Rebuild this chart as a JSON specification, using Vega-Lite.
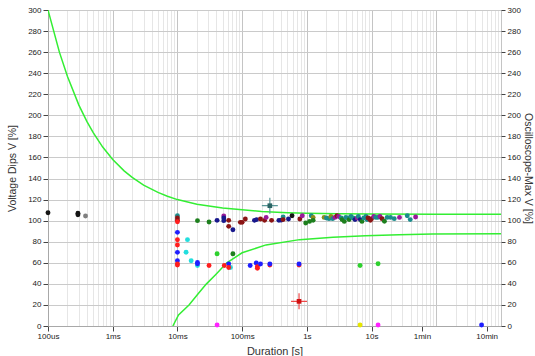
{
  "$schema": "https://vega.github.io/schema/vega-lite/v6.json",
  "autosize": {"type": "none"},
  "width": 453,
  "height": 316,
  "padding": {"left": 48, "top": 10, "right": 34, "bottom": 30},
  "background": "white",
  "config": {
    "view": {"stroke": "#a8a8a8"},
    "font": "Liberation Sans Narrow, Liberation Sans",
    "axis": {"labelFont": "Liberation Sans Narrow, Liberation Sans", "titleFont": "Liberation Sans Narrow, Liberation Sans", "labelFontSize": 8, "labelColor": "#222", "titleFontSize": 10.5, "titleFontWeight": "normal", "titleColor": "#333", "tickColor": "#444", "domainColor": "#a8a8a8"}
  },
  "datasets": {
    "curves": [
      {"c": "upper", "t": 0.0001, "v": 300}, {"c": "upper", "t": 0.00015, "v": 260}, {"c": "upper", "t": 0.0002, "v": 236.8}, {"c": "upper", "t": 0.0003, "v": 209.7}, {"c": "upper", "t": 0.0004, "v": 194}, {"c": "upper", "t": 0.0005, "v": 183.5}, {"c": "upper", "t": 0.0007, "v": 169.9}, {"c": "upper", "t": 0.001, "v": 158.1}, {"c": "upper", "t": 0.0015, "v": 147.3}, {"c": "upper", "t": 0.002, "v": 141.1}, {"c": "upper", "t": 0.003, "v": 133.8}, {"c": "upper", "t": 0.005, "v": 126.8}, {"c": "upper", "t": 0.007, "v": 123.2}, {"c": "upper", "t": 0.01, "v": 120}, {"c": "upper", "t": 0.02, "v": 115.6}, {"c": "upper", "t": 0.05, "v": 112}, {"c": "upper", "t": 0.1, "v": 110.4}, {"c": "upper", "t": 0.2, "v": 108.8}, {"c": "upper", "t": 0.5, "v": 107.6}, {"c": "upper", "t": 1, "v": 107}, {"c": "upper", "t": 3, "v": 106.6}, {"c": "upper", "t": 10, "v": 106.4}, {"c": "upper", "t": 100, "v": 106.2}, {"c": "upper", "t": 1000, "v": 106},
      {"c": "lower", "t": 0.0085, "v": 0}, {"c": "lower", "t": 0.0104, "v": 10.5}, {"c": "lower", "t": 0.0151, "v": 20}, {"c": "lower", "t": 0.0212, "v": 31}, {"c": "lower", "t": 0.0281, "v": 40}, {"c": "lower", "t": 0.0385, "v": 48.5}, {"c": "lower", "t": 0.058, "v": 60}, {"c": "lower", "t": 0.1, "v": 69.5}, {"c": "lower", "t": 0.234, "v": 77}, {"c": "lower", "t": 0.77, "v": 82}, {"c": "lower", "t": 2.54, "v": 84.2}, {"c": "lower", "t": 8.07, "v": 85.7}, {"c": "lower", "t": 26.6, "v": 86.7}, {"c": "lower", "t": 87.7, "v": 87.3}, {"c": "lower", "t": 1000, "v": 87.6}
    ],
    "pts": [
      {"t": 0.0001, "v": 107.5, "s": "blk"},
      {"t": 0.00029, "v": 107, "s": "blk"}, {"t": 0.00029, "v": 105.5, "s": "blk"},
      {"t": 0.00038, "v": 104.5, "s": "gray"},
      {"t": 0.01, "v": 104.7, "s": "teal"}, {"t": 0.01, "v": 102.5, "s": "maroon"}, {"t": 0.01, "v": 100.5, "s": "maroon"}, {"t": 0.01, "v": 99, "s": "red"},
      {"t": 0.01, "v": 88.9, "s": "blue"}, {"t": 0.01, "v": 81.9, "s": "red"}, {"t": 0.01, "v": 76.9, "s": "red"}, {"t": 0.01, "v": 69.9, "s": "blue"}, {"t": 0.01, "v": 62, "s": "blue"}, {"t": 0.01, "v": 59, "s": "red"}, {"t": 0.01, "v": 57.8, "s": "red"},
      {"t": 0.0143, "v": 82, "s": "cyan"}, {"t": 0.0136, "v": 70, "s": "cyan"}, {"t": 0.0163, "v": 62, "s": "cyan"},
      {"t": 0.0204, "v": 57.5, "s": "cyan"}, {"t": 0.0204, "v": 60.4, "s": "blue"}, {"t": 0.0204, "v": 59, "s": "blue"}, {"t": 0.0204, "v": 100, "s": "dgreen"},
      {"t": 0.0308, "v": 98.7, "s": "dgreen"}, {"t": 0.0308, "v": 57.5, "s": "red"},
      {"t": 0.041, "v": 100.3, "s": "navy"}, {"t": 0.041, "v": 68.6, "s": "green"},
      {"t": 0.052, "v": 104.5, "s": "purple"}, {"t": 0.052, "v": 102.5, "s": "navy"}, {"t": 0.052, "v": 100, "s": "navy"}, {"t": 0.053, "v": 57.5, "s": "red"},
      {"t": 0.066, "v": 55.6, "s": "cyan"}, {"t": 0.062, "v": 59, "s": "blue"}, {"t": 0.062, "v": 55.6, "s": "red"},
      {"t": 0.062, "v": 100.3, "s": "maroon"}, {"t": 0.062, "v": 94.6, "s": "maroon"},
      {"t": 0.072, "v": 91.4, "s": "navy"}, {"t": 0.072, "v": 68.6, "s": "dgreen"},
      {"t": 0.094, "v": 98.4, "s": "maroon"}, {"t": 0.1, "v": 98.4, "s": "maroon"}, {"t": 0.112, "v": 101.6, "s": "maroon"},
      {"t": 0.133, "v": 57.5, "s": "blue"},
      {"t": 0.155, "v": 100.3, "s": "navy"}, {"t": 0.167, "v": 101, "s": "navy"},
      {"t": 0.165, "v": 59.8, "s": "blue"}, {"t": 0.172, "v": 56.3, "s": "red"}, {"t": 0.172, "v": 54.8, "s": "red"}, {"t": 0.192, "v": 58.9, "s": "blue"},
      {"t": 0.192, "v": 101.6, "s": "maroon"}, {"t": 0.222, "v": 100.3, "s": "maroon"}, {"t": 0.235, "v": 103.1, "s": "purple"},
      {"t": 0.268, "v": 57.8, "s": "red"}, {"t": 0.268, "v": 58.9, "s": "blue"},
      {"t": 0.285, "v": 100.3, "s": "maroon"}, {"t": 0.37, "v": 100.3, "s": "navy"},
      {"t": 0.4, "v": 100.5, "s": "navy"}, {"t": 0.43, "v": 103.5, "s": "teal"}, {"t": 0.43, "v": 101, "s": "maroon"},
      {"t": 0.52, "v": 101.6, "s": "navy"}, {"t": 0.59, "v": 104.7, "s": "blk"},
      {"t": 0.757, "v": 57.8, "s": "red"}, {"t": 0.757, "v": 58.9, "s": "blue"},
      {"t": 0.78, "v": 101.6, "s": "maroon"}, {"t": 0.85, "v": 104.7, "s": "purple"},
      {"t": 0.96, "v": 97.8, "s": "dgreen"}, {"t": 1.1, "v": 99.3, "s": "dgreen"}, {"t": 1.17, "v": 104.7, "s": "teal"}, {"t": 1.25, "v": 103, "s": "olive"}, {"t": 1.25, "v": 100.3, "s": "dgreen"},
      {"t": 1.85, "v": 103.1, "s": "olive"}, {"t": 2.01, "v": 102.5, "s": "teal"}, {"t": 2.2, "v": 101.9, "s": "teal"}, {"t": 2.35, "v": 104, "s": "olive"}, {"t": 2.5, "v": 101.9, "s": "teal"},
      {"t": 2.71, "v": 103.1, "s": "purple"}, {"t": 2.92, "v": 104.7, "s": "maroon"}, {"t": 3.1, "v": 104, "s": "purple"}, {"t": 3.4, "v": 102.5, "s": "teal"}, {"t": 3.5, "v": 101, "s": "dgreen"},
      {"t": 3.79, "v": 99.3, "s": "dgreen"}, {"t": 4.0, "v": 103.1, "s": "teal"}, {"t": 4.37, "v": 102.5, "s": "teal"}, {"t": 4.5, "v": 101, "s": "dgreen"}, {"t": 4.81, "v": 104, "s": "teal"},
      {"t": 5.2, "v": 102.5, "s": "teal"}, {"t": 5.55, "v": 101, "s": "navy"}, {"t": 6.0, "v": 102.5, "s": "purple"}, {"t": 6.25, "v": 104, "s": "teal"}, {"t": 6.7, "v": 101, "s": "navy"},
      {"t": 7.1, "v": 99.3, "s": "dgreen"}, {"t": 7.6, "v": 102.5, "s": "teal"}, {"t": 8.2, "v": 104, "s": "teal"}, {"t": 8.5, "v": 101, "s": "teal"}, {"t": 8.8, "v": 102.5, "s": "maroon"},
      {"t": 9.6, "v": 100.3, "s": "maroon"}, {"t": 10, "v": 101.9, "s": "maroon"}, {"t": 10.8, "v": 104, "s": "purple"}, {"t": 11.6, "v": 103.1, "s": "teal"}, {"t": 12.5, "v": 103.1, "s": "teal"},
      {"t": 13.5, "v": 104, "s": "purple"}, {"t": 14.5, "v": 101.9, "s": "maroon"}, {"t": 15.8, "v": 99.5, "s": "dgreen"}, {"t": 17.4, "v": 103.1, "s": "teal"}, {"t": 19.6, "v": 103.1, "s": "teal"},
      {"t": 22.4, "v": 101.9, "s": "teal"}, {"t": 27, "v": 103.1, "s": "purple"}, {"t": 35.6, "v": 104.7, "s": "teal"}, {"t": 39.6, "v": 101, "s": "teal"}, {"t": 47.9, "v": 103.5, "s": "purple"},
      {"t": 6.64, "v": 57.5, "s": "green"}, {"t": 12.6, "v": 59.1, "s": "green"},
      {"t": 0.041, "v": 1, "s": "magenta"}, {"t": 6.64, "v": 1, "s": "yellow"}, {"t": 12.6, "v": 1, "s": "magenta"}, {"t": 501, "v": 1, "s": "blue"}
    ],
    "marks": [
      {"t": 0.268, "v": 114.2, "m": "teal"},
      {"t": 0.757, "v": 23.4, "m": "red"}
    ]
  },
  "layer": [
    {
      "data": {"name": "curves"},
      "mark": {"type": "line", "strokeWidth": 1.5, "color": "#33ee33", "clip": true},
      "encoding": {
        "x": {"field": "t", "type": "quantitative", "scale": {"type": "log", "domain": [0.0001, 1000]},
          "axis": {
            "title": "Duration [s]", "titlePadding": 5, "titleFontSize": 11,
            "values": [0.0001,0.0002,0.0003,0.0004,0.0005,0.0006,0.0007,0.0008,0.0009,0.001,0.002,0.003,0.004,0.005,0.006,0.007,0.008,0.009,0.01,0.02,0.03,0.04,0.05,0.06,0.07,0.08,0.09,0.1,0.2,0.3,0.4,0.5,0.6,0.7,0.8,0.9,1,2,3,4,5,6,7,8,9,10,20,30,40,50,60,70,80,90,100,200,300,400,500,600,700,800,900,1000],
            "labelExpr": "datum.value == 0.0001 ? '100us' : datum.value == 0.001 ? '1ms' : datum.value == 0.01 ? '10ms' : datum.value == 0.1 ? '100ms' : datum.value == 1 ? '1s' : datum.value == 10 ? '10s' : datum.value == 60 ? '1min' : datum.value == 600 ? '10min' : ''",
            "labelOverlap": false, "labelFlush": false, "labelPadding": 1, "tickSize": 5,
            "tickOpacity": {"condition": {"test": "indexof([0.0001,0.001,0.01,0.1,1,10,60,600], datum.value) >= 0", "value": 1}, "value": 0},
            "grid": true,
            "gridColor": {"condition": {"test": "indexof([0.0001,0.001,0.01,0.1,1,10,100,1000], datum.value) >= 0", "value": "#c4c4c4"}, "value": "#e6e6e6"},
            "domain": true
          }
        },
        "y": {"field": "v", "type": "quantitative", "scale": {"domain": [0, 300], "nice": false},
          "axis": {"orient": "left", "title": "Voltage Dips V [%]", "values": [0,20,40,60,80,100,120,140,160,180,200,220,240,260,280,300], "grid": true, "gridColor": "#cacaca", "tickSize": 5, "labelPadding": 2, "titlePadding": 10}
        },
        "detail": {"field": "c"}
      }
    },
    {
      "data": {"name": "pts"},
      "mark": {"type": "circle", "size": 24, "opacity": 1},
      "encoding": {
        "x": {"field": "t", "type": "quantitative"},
        "y": {"field": "v", "type": "quantitative",
          "axis": {"orient": "right", "title": "Oscilloscope-Max V [%]", "values": [0,20,40,60,80,100,120,140,160,180,200,220,240,260,280,300], "grid": false, "tickSize": 4, "labelPadding": 2, "titlePadding": 2, "domain": false}
        },
        "color": {"field": "s", "type": "nominal", "legend": null,
          "scale": {"domain": ["blk","gray","blue","red","cyan","maroon","navy","dgreen","green","purple","teal","olive","magenta","yellow"],
                    "range": ["#151515","#808080","#1e1eff","#ff1e1e","#22dede","#8b1414","#18188c","#1d7f1d","#2ed02e","#9a1a9a","#1a8c8c","#8c8c1a","#ff22ff","#e6e600"]}}
      }
    },
    {
      "data": {"name": "marks"},
      "mark": {"type": "point", "shape": "M-1,0L1,0M0,-1L0,1", "size": 256, "filled": false, "strokeWidth": 1.2, "opacity": 1},
      "encoding": {
        "x": {"field": "t", "type": "quantitative"},
        "y": {"field": "v", "type": "quantitative", "axis": null},
        "stroke": {"field": "m", "type": "nominal", "legend": null, "scale": {"domain": ["teal","red"], "range": ["#5a9898","#ee4a4a"]}}
      }
    },
    {
      "data": {"name": "marks"},
      "mark": {"type": "square", "size": 22, "opacity": 1},
      "encoding": {
        "x": {"field": "t", "type": "quantitative"},
        "y": {"field": "v", "type": "quantitative", "axis": null},
        "fill": {"field": "m", "type": "nominal", "legend": null, "scale": {"domain": ["teal","red"], "range": ["#2a6464","#d01010"]}}
      }
    }
  ],
  "resolve": {"axis": {"y": "independent"}}
}
